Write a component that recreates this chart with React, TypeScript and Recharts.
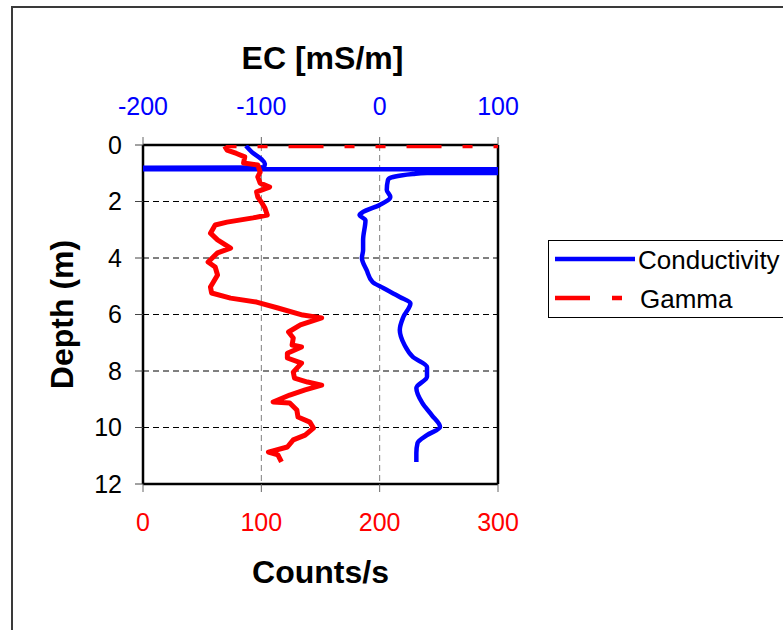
import React from 'react';
import {
  ScatterChart,
  Scatter,
  XAxis,
  YAxis,
  CartesianGrid,
  ReferenceLine,
  Legend,
} from 'recharts';

const FONT = '"Liberation Sans", Arial, sans-serif';

// Axis ticks
const depthTicks = [0, 2, 4, 6, 8, 10, 12];
const ecTicks = [-200, -100, 0, 100];
const countTicks = [0, 100, 200, 300];

// Conductivity (EC, mS/m) vs depth (m)
const condDepth = [
  0.03, 0.25, 0.5, 0.66, 0.8, 0.84, 0.88, 0.95, 0.99, 1.03, 1.08, 1.15, 1.24,
  1.59, 1.84, 2.12, 2.37, 2.48, 2.66, 3.36, 3.72, 4.0, 4.43, 4.85, 5.06, 5.38,
  5.6, 6.09, 6.55, 7.08, 7.5, 7.86, 8.2, 8.6, 9.13, 9.56, 9.98, 10.27, 10.55,
  10.9, 11.22,
];
const condEC = [
  -113, -108, -100, -97, -98, -3000, 3000, 3000, 40, 28, 18, 10, 7, 6, 9, 0,
  -14, -17, -12, -14, -14, -15, -11, -6, 3, 17, 26, 20, 17, 21, 28, 40, 40, 31,
  36, 44, 51, 40, 32, 31, 31,
];

// Gamma (counts/s) vs depth (m)
const gammaDepth = [
  0.04, 0.18, 0.3, 0.42, 0.64, 0.71, 0.96, 1.13, 1.35, 1.49, 1.66, 1.84, 2.02,
  2.23, 2.48, 2.58, 2.73, 2.83, 3.12, 3.36, 3.65, 3.82, 4.14, 4.32, 4.6, 5.03,
  5.24, 5.42, 5.56, 5.77, 6.02, 6.12, 6.37, 6.62, 6.83, 7.08, 7.15, 7.37, 7.54,
  7.72, 8.04, 8.25, 8.39, 8.5, 8.67, 8.85, 9.1, 9.13, 9.38, 9.63, 9.81, 10.02,
  10.27, 10.44, 10.69, 10.87, 10.97, 11.22,
];
const gammaCounts = [
  69, 71, 79, 86, 85, 97, 99, 97, 99, 107, 96, 97, 100, 103, 105, 93, 71, 61,
  57, 63, 74, 63, 55, 61, 63, 57, 58, 74, 96, 114, 135, 151, 133, 123, 127, 126,
  134, 122, 122, 134, 127, 128, 139, 151, 137, 124, 110, 124, 130, 131, 141, 144,
  137, 127, 122, 106, 114, 117,
];

// Gamma surface reading (off scale) joined to the first logged value, drawn dashed
const gammaTopDepth = [0.04, 0.04];
const gammaTopCounts = [352, 69];

const condData = condDepth.map((d, i) => ({ depth: d, ec: condEC[i] }));
const gammaData = gammaDepth.map((d, i) => ({ depth: d, counts: gammaCounts[i] }));
const gammaTopData = gammaTopDepth.map((d, i) => ({ depth: d, counts: gammaTopCounts[i] }));

const NoShape = () => <g />;

const LegendBox = (props: any) => {
  const items = (props.payload || []).filter((p: any) => p.type !== 'none');
  return (
    <svg width={260} height={78} style={{ display: 'block' }}>
      <rect x={0.5} y={0.5} width={259} height={77} fill="#fff" stroke="#000" strokeWidth={1} />
      {items.map((it: any, i: number) => {
        const y = i === 0 ? 19 : 58;
        const dashed = it.value === 'Gamma';
        return (
          <g key={it.value}>
            <line
              x1={7}
              x2={dashed ? 74 : 87}
              y1={y}
              y2={y}
              stroke={it.color}
              strokeWidth={4.5}
              strokeDasharray={dashed ? '35 22 10 100' : undefined}
            />
            <text
              x={dashed ? 92 : 90}
              y={y + 1}
              dominantBaseline="central"
              fontSize={26}
              fontFamily={FONT}
              fill="#000"
            >
              {it.value}
            </text>
          </g>
        );
      })}
    </svg>
  );
};

const ecTitle = (p: any) => {
  const vb = p.viewBox || {};
  return (
    <text
      x={vb.x + vb.width / 2 + 2}
      y={vb.y - 47}
      textAnchor="middle"
      dominantBaseline="central"
      fontSize={32}
      fontWeight="bold"
      fontFamily={FONT}
      fill="#000"
    >
      EC [mS/m]
    </text>
  );
};

const countsTitle = (p: any) => {
  const vb = p.viewBox || {};
  return (
    <text
      x={vb.x + vb.width / 2}
      y={vb.y + 88}
      textAnchor="middle"
      dominantBaseline="central"
      fontSize={32}
      fontWeight="bold"
      fontFamily={FONT}
      fill="#000"
    >
      Counts/s
    </text>
  );
};

const depthTitle = (p: any) => {
  const vb = p.viewBox || {};
  const cx = vb.x - 21;
  const cy = vb.y + vb.height / 2;
  return (
    <text
      x={cx}
      y={cy}
      transform={`rotate(-90 ${cx} ${cy})`}
      textAnchor="middle"
      dominantBaseline="central"
      fontSize={32}
      fontWeight="bold"
      fontFamily={FONT}
      fill="#000"
    >
      Depth (m)
    </text>
  );
};

export default function App() {
  return (
    <div
      style={{
        position: 'absolute',
        left: 0,
        top: 0,
        width: 783,
        height: 630,
        overflow: 'hidden',
        background: '#fff',
      }}
    >
      <div
        style={{
          position: 'absolute',
          left: 11,
          top: 6,
          width: 820,
          height: 700,
          border: '2px solid #3a3a3a',
        }}
      />
      <div style={{ position: 'absolute', left: 0, top: 0 }}>
        <ScatterChart
          width={783}
          height={630}
          margin={{ top: 105, right: 285, bottom: 106, left: 83 }}
        >
          <CartesianGrid
            xAxisId="cnt"
            yAxisId="d"
            horizontal={true}
            vertical={false}
            stroke="#000"
            strokeDasharray="6 4"
          />
          <CartesianGrid
            xAxisId="cnt"
            yAxisId="d"
            horizontal={false}
            vertical={true}
            stroke="#808080"
            strokeDasharray="6 4"
          />
          <XAxis
            xAxisId="ec"
            orientation="top"
            type="number"
            dataKey="ec"
            domain={[-200, 100]}
            ticks={ecTicks}
            interval={0}
            allowDataOverflow
            height={40}
            tickSize={8}
            tickMargin={22}
            tick={{ fill: '#0000ff', fontSize: 25, fontFamily: FONT }}
            tickLine={{ stroke: '#666' }}
            axisLine={{ stroke: '#000', strokeWidth: 2.5 }}
            label={ecTitle}
          />
          <XAxis
            xAxisId="cnt"
            orientation="bottom"
            type="number"
            dataKey="counts"
            domain={[0, 300]}
            ticks={countTicks}
            interval={0}
            allowDataOverflow
            height={40}
            tickSize={8}
            tickMargin={21}
            tick={{ fill: '#ff0000', fontSize: 25, fontFamily: FONT }}
            tickLine={{ stroke: '#666' }}
            axisLine={{ stroke: '#000', strokeWidth: 2.5 }}
            label={countsTitle}
          />
          <YAxis
            yAxisId="d"
            type="number"
            dataKey="depth"
            domain={[0, 12]}
            reversed
            ticks={depthTicks}
            interval={0}
            allowDataOverflow
            width={60}
            tickSize={8}
            tickMargin={13}
            tick={{ fill: '#000', fontSize: 25, fontFamily: FONT }}
            tickLine={{ stroke: '#444' }}
            axisLine={{ stroke: '#000', strokeWidth: 2.5 }}
            label={depthTitle}
          />
          <ReferenceLine
            xAxisId="cnt"
            yAxisId="d"
            x={300}
            stroke="#000"
            strokeWidth={2.5}
          />
          <Scatter
            name="Conductivity"
            data={condData}
            xAxisId="ec"
            yAxisId="d"
            fill="#0000ff"
            line={{ stroke: '#0000ff', strokeWidth: 4.5, strokeLinejoin: 'round' }}
            lineType="joint"
            lineJointType="monotoneY"
            shape={NoShape}
            isAnimationActive={false}
          />
          <Scatter
            name="Gamma"
            data={gammaData}
            xAxisId="cnt"
            yAxisId="d"
            fill="#ff0000"
            line={{ stroke: '#ff0000', strokeWidth: 5, strokeLinejoin: 'round' }}
            lineType="joint"
            shape={NoShape}
            isAnimationActive={false}
          />
          <Scatter
            name="Gamma surface"
            data={gammaTopData}
            xAxisId="cnt"
            yAxisId="d"
            fill="#ff0000"
            legendType="none"
            line={{
              stroke: '#ff0000',
              strokeWidth: 4,
              strokeDasharray: '35 21 10 21 10 21',
            }}
            lineType="joint"
            shape={NoShape}
            isAnimationActive={false}
          />
          <Legend
            layout="horizontal"
            verticalAlign="middle"
            align="center"
            wrapperStyle={{
              left: 548,
              top: 240,
              right: 'auto',
              bottom: 'auto',
              width: 260,
              height: 78,
            }}
            content={LegendBox}
          />
        </ScatterChart>
      </div>
    </div>
  );
}
